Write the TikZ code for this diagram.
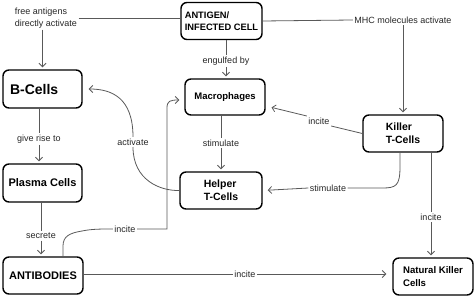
\documentclass[tikz,border=0pt]{standalone}
\usepackage{fontspec}
\setmainfont{Liberation Sans}
\usetikzlibrary{arrows.meta,calc}
\begin{document}
\begin{tikzpicture}[x=1pt,y=-1pt,
  box/.style={draw=black,line width=1.4pt,rounded corners=6pt,font=\bfseries\fontsize{10.5}{13}\selectfont,align=left,inner sep=2pt},
  lbl/.style={font=\fontsize{9}{11.5}\selectfont,text=black!85,inner sep=1.5pt,align=left},
  conn/.style={draw=black!65,line width=0.8pt},
  arr/.style={conn,-{Straight Barb[length=3.5pt,width=7pt]},shorten >=2pt}
]
\useasboundingbox (0,0) rectangle (474,296);

% boxes
\node[box,minimum width=81pt,minimum height=37pt,font=\bfseries\fontsize{9.3}{12}\selectfont] (antigen) at (221.5,21) {ANTIGEN/\\INFECTED CELL};
\node[box,minimum width=79pt,minimum height=38pt,font=\bfseries\fontsize{14}{16}\selectfont,text width=65pt] (bcells) at (42.5,89) {B-Cells};
\node[box,minimum width=80pt,minimum height=36pt,font=\bfseries\fontsize{9.5}{12}\selectfont] (macro) at (225,97) {Macrophages};
\node[box,minimum width=80pt,minimum height=37pt] (killer) at (403,133.5) {Killer\\T-Cells};
\node[box,minimum width=79pt,minimum height=38pt,font=\bfseries\fontsize{11}{13}\selectfont] (plasma) at (42.5,183) {Plasma Cells};
\node[box,minimum width=82pt,minimum height=37pt] (helper) at (221,190.5) {Helper\\T-Cells};
\node[box,minimum width=80pt,minimum height=37pt,font=\bfseries\fontsize{11}{13}\selectfont] (antibodies) at (43,275.5) {ANTIBODIES};
\node[box,minimum width=80pt,minimum height=37pt,font=\bfseries\fontsize{9.6}{13}\selectfont] (nk) at (433,276.5) {Natural Killer\\Cells};

% labels
\node[lbl] (lfree) at (46,18) {free antigens\\directly activate};
\node[lbl] (lmhc) at (403,20) {MHC molecules activate};
\node[lbl] (leng) at (226,61) {engulfed by};
\node[lbl] (lstimA) at (221,143) {stimulate};
\node[lbl] (lincA) at (319,121) {incite};
\node[lbl] (lrise) at (39,139) {give rise to};
\node[lbl] (lact) at (133,142) {activate};
\node[lbl] (lstimB) at (328,188) {stimulate};
\node[lbl] (lincB) at (431,217) {incite};
\node[lbl] (lsec) at (41,236) {secrete};
\node[lbl] (lincC) at (125,229) {incite};
\node[lbl] (lincD) at (245,274) {incite};

% connectors
\draw[conn] (lfree.east) -- (lfree.east -| antigen.west);
\draw[arr] (lfree.south -| bcells.north) -- (bcells.north);

\draw[conn] (antigen.east) -- (lmhc.west);
\draw[arr] (lmhc.south) -- (lmhc.south |- killer.north);

\draw[conn] (leng.north |- antigen.south) -- (leng.north);
\draw[arr] (leng.south) -- (leng.south |- macro.north);

\draw[conn] (lstimA.north |- macro.south) -- (lstimA.north);
\draw[arr] (lstimA.south) -- (lstimA.south |- helper.north);

\draw[conn] (killer.west) -- (lincA.south east);
\draw[arr,shorten >=6pt] (lincA.north west) -- ($(macro.east)+(0,9)$);

\draw[conn] ($(killer.south)+(-3,0)$) -- ++(0,14) .. controls (400,186) and (396,188) .. (382,188) -- (lstimB.east);
\draw[arr,shorten >=5pt] (lstimB.west) -- (helper.east);

\draw[conn] (lincB.north |- killer.south) -- (lincB.north);
\draw[arr] (lincB.south) -- (lincB.south |- nk.north);

\draw[arr,shorten >=6pt] (lact.north) .. controls (133,98) and (112,89) .. (bcells.east);
\draw[conn] (lact.south) .. controls (133,180) and (160,191) .. (helper.west);

\draw[conn] ($(antibodies.north)+(20,0)$) -- (63,246) .. controls (63,236) and (70,233) .. (82,231) .. controls (92,229) and (100,229) .. (lincC.west);
\draw[arr,shorten >=5pt] (lincC.east) -- (167,229) -- (167,108) .. controls (167,101) and (170,100) .. ($(macro.west)+(0,3)$);

\draw[conn] (antibodies.east |- lincD) -- (lincD.west);
\draw[arr,shorten >=6pt] (lincD.east) -- (nk.west |- lincD);

\draw[conn] (lrise.north |- bcells.south) -- (lrise.north);
\draw[arr] (lrise.south) -- (lrise.south |- plasma.north);
\draw[conn] (lsec.north |- plasma.south) -- (lsec.north);
\draw[arr] (lsec.south) -- (lsec.south |- antibodies.north);
\end{tikzpicture}
\end{document}
